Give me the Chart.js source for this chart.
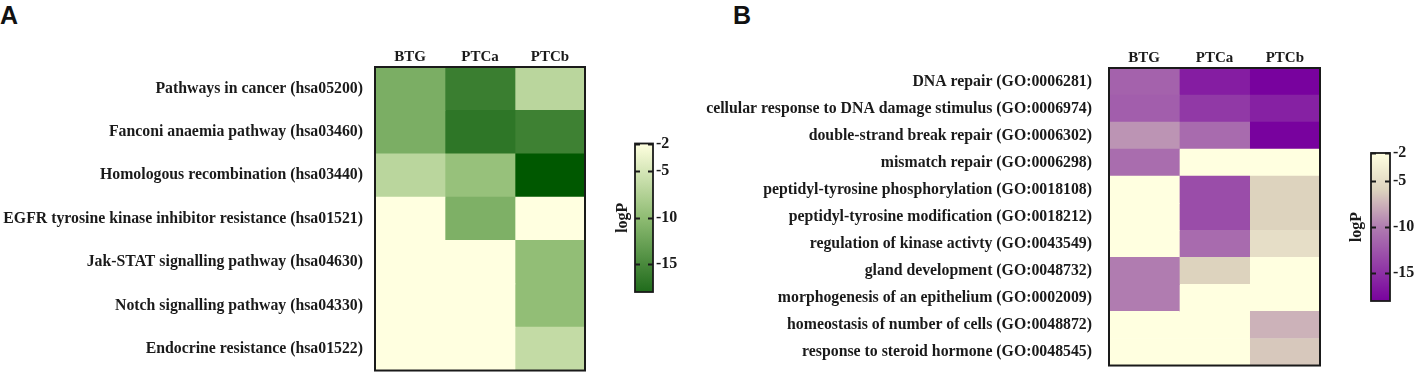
<!DOCTYPE html>
<html>
<head>
<meta charset="utf-8">
<script src="https://cdn.jsdelivr.net/npm/chart.js@4.4.0/dist/chart.umd.min.js"></script>
<style>
  html, body { margin: 0; padding: 0; background: #fff; }
  body { width: 1418px; height: 392px; position: relative; overflow: hidden; }
  canvas { position: absolute; }
  .tag { position: absolute; font: bold 25px "Liberation Sans", Arial, sans-serif; color: #111; }
</style>
</head>
<body>
<div class="tag" style="left:0px;top:1px">A</div>
<div class="tag" style="left:733px;top:1px">B</div>
<canvas id="heatA" style="left:0px;top:0px" width="600" height="392"></canvas>
<canvas id="barA" style="left:609px;top:100px" width="90" height="220"></canvas>
<canvas id="heatB" style="left:690px;top:0px" width="650" height="392"></canvas>
<canvas id="barB" style="left:1343px;top:110px" width="75" height="220"></canvas>
<script>
// columns shared by both panels
const columns = ["BTG", "PTCa", "PTCb"];

// A: KEGG pathways (logP)
const keggTerms = [
  "Pathways in cancer (hsa05200)",
  "Fanconi anaemia pathway (hsa03460)",
  "Homologous recombination (hsa03440)",
  "EGFR tyrosine kinase inhibitor resistance (hsa01521)",
  "Jak-STAT signalling pathway (hsa04630)",
  "Notch signalling pathway (hsa04330)",
  "Endocrine resistance (hsa01522)"
];
const keggBTG  = [-11.4, -11.4, -6.9, -2, -2, -2, -2];
const keggPTCa = [-16.1, -16.9, -9.4, -11.2, -2, -2, -2];
const keggPTCb = [-6.9, -15.8, -21, -2, -9.8, -9.8, -6.3];

// B: GO terms (logP)
const goTerms = [
  "DNA repair (GO:0006281)",
  "cellular response to DNA damage stimulus (GO:0006974)",
  "double-strand break repair (GO:0006302)",
  "mismatch repair (GO:0006298)",
  "peptidyl-tyrosine phosphorylation (GO:0018108)",
  "peptidyl-tyrosine modification (GO:0018212)",
  "regulation of kinase activty (GO:0043549)",
  "gland development (GO:0048732)",
  "morphogenesis of an epithelium (GO:0002009)",
  "homeostasis of number of cells (GO:0048872)",
  "response to steroid hormone (GO:0048545)"
];
const goBTG  = [-11.7, -12, -8.9, -11, -2, -2, -2, -10, -10, -2, -2];
const goPTCa = [-16.2, -14.4, -11.1, -2, -13.1, -13.1, -11.1, -6, -2, -2, -2];
const goPTCb = [-18, -16, -18, -2, -6, -6, -5, -2, -2, -7.5, -6.5];

// colour bar
const legendTicks = [-2, -5, -10, -15];
const legendMin = -18;
const legendMax = -2;

// colour ramps: [logP, r, g, b]
const greenStops = [[-2, 255, 255, 224], [-10, 143, 188, 115], [-18, 31, 107, 27], [-21, 0, 88, 0]];
const purpleStops = [[-2, 255, 255, 224], [-6, 221, 211, 190], [-10, 176, 124, 176], [-18, 120, 2, 158]];

function rampColor(stops, v) {
  if (v >= stops[0][0]) return `rgb(${stops[0][1]},${stops[0][2]},${stops[0][3]})`;
  for (let i = 1; i < stops.length; i++) {
    const a = stops[i - 1], b = stops[i];
    if (v >= b[0]) {
      const t = (a[0] - v) / (a[0] - b[0]);
      const c = [1, 2, 3].map(k => Math.round(a[k] + (b[k] - a[k]) * t));
      return `rgb(${c[0]},${c[1]},${c[2]})`;
    }
  }
  const l = stops[stops.length - 1];
  return `rgb(${l[1]},${l[2]},${l[3]})`;
}

const serif = '"Liberation Serif", "Times New Roman", serif';
const ink = '#1a1a1a';

const boxPlugin = {
  id: 'box',
  afterDatasetsDraw(chart, args, opts) {
    const a = chart.chartArea, ctx = chart.ctx;
    ctx.save();
    ctx.strokeStyle = ink;
    ctx.lineWidth = opts.width || 2;
    ctx.strokeRect(a.left, a.top, a.right - a.left, a.bottom - a.top);
    ctx.restore();
  }
};

function heatmap(id, terms, series, stops, axisW, tickPad, pad) {
  const datasets = series.map((vals, i) => ({
    label: columns[i],
    data: terms.map(() => [i, i + 1]),
    backgroundColor: vals.map(v => rampColor(stops, v)),
    borderWidth: 0,
    grouped: false,
    barPercentage: 1,
    categoryPercentage: 1
  }));
  return new Chart(document.getElementById(id), {
    type: 'bar',
    data: { labels: terms, datasets },
    options: {
      indexAxis: 'y',
      responsive: false,
      animation: false,
      devicePixelRatio: 1,
      layout: { padding: pad },
      plugins: { legend: { display: false }, tooltip: { enabled: false }, box: { width: 2 } },
      scales: {
        x: {
          type: 'linear', position: 'top', min: 0, max: 3,
          grid: { display: false, drawTicks: false },
          border: { display: false },
          afterFit: s => { s.height = pad.axisH; },
          afterBuildTicks: s => { s.ticks = columns.map((c, i) => ({ value: i + 0.5 })); },
          ticks: {
            padding: 1, autoSkip: false, maxRotation: 0,
            color: ink, font: { family: serif, size: 15, weight: 'bold' },
            callback: (v, i) => columns[i]
          }
        },
        y: {
          grid: { display: false, drawTicks: false },
          border: { display: false },
          afterFit: s => { s.width = axisW; },
          ticks: { padding: tickPad, autoSkip: false, color: ink, font: { family: serif, size: 15.8, weight: 'bold' } }
        }
      }
    },
    plugins: [boxPlugin]
  });
}

function colorBar(id, stops, top, bottom, leftW, rightW) {
  const barPlugin = {
    id: 'barTicks',
    afterDatasetsDraw(chart) {
      const a = chart.chartArea, ctx = chart.ctx, y = chart.scales.y;
      ctx.save();
      ctx.strokeStyle = ink;
      ctx.lineWidth = 2;
      legendTicks.forEach(t => {
        const py = Math.round(y.getPixelForValue(t)) + 0.5;
        ctx.beginPath();
        ctx.moveTo(a.left, py); ctx.lineTo(a.left + 5, py);
        ctx.moveTo(a.right - 5, py); ctx.lineTo(a.right, py);
        ctx.stroke();
      });
      ctx.lineWidth = 1.8;
      ctx.strokeRect(a.left, a.top, a.right - a.left, a.bottom - a.top);
      ctx.restore();
    }
  };
  return new Chart(document.getElementById(id), {
    type: 'bar',
    data: {
      labels: ['logP'],
      datasets: [{
        data: [[legendMin, legendMax]],
        yAxisID: 'y',
        barPercentage: 1,
        categoryPercentage: 1,
        borderWidth: 0,
        backgroundColor: ctx => {
          const chart = ctx.chart, y = chart.scales.y;
          if (!chart.chartArea || !y) return 'rgba(0,0,0,0)';
          const y0 = y.getPixelForValue(legendMax), y1 = y.getPixelForValue(legendMin);
          const g = chart.ctx.createLinearGradient(0, y0, 0, y1);
          for (let v = legendMax; v >= legendMin; v -= 1) {
            g.addColorStop((legendMax - v) / (legendMax - legendMin), rampColor(stops, v));
          }
          return g;
        }
      }]
    },
    options: {
      responsive: false,
      animation: false,
      devicePixelRatio: 1,
      layout: { padding: { top: top, bottom: bottom } },
      plugins: { legend: { display: false }, tooltip: { enabled: false } },
      scales: {
        x: { display: false },
        y: {
          position: 'right', min: legendMin, max: legendMax,
          grid: { display: false, drawTicks: false },
          border: { display: false },
          afterFit: s => { s.width = rightW; },
          afterBuildTicks: s => { s.ticks = legendTicks.map(v => ({ value: v })); },
          ticks: { padding: 3, color: ink, font: { family: serif, size: 16, weight: 'bold' } }
        },
        yl: {
          position: 'left',
          grid: { display: false, drawTicks: false },
          border: { display: false },
          ticks: { display: false },
          afterFit: s => { s.width = leftW; },
          title: { display: true, text: 'logP', color: ink, padding: { top: 4, bottom: 4 }, font: { family: serif, size: 16, weight: 'bold' } }
        }
      }
    },
    plugins: [barPlugin]
  });
}

heatmap('heatA', keggTerms, [keggBTG, keggPTCa, keggPTCb], greenStops, 375, 12,
  { top: 0, right: 15, bottom: 12, left: 0, axisH: 67 });
heatmap('heatB', goTerms, [goBTG, goPTCa, goPTCb], purpleStops, 419, 17,
  { top: 0, right: 20, bottom: 8, left: 0, axisH: 68 });
colorBar('barA', greenStops, 43.5, 28, 26, 46);
colorBar('barB', purpleStops, 43, 29, 28, 28);
</script>
</body>
</html>
